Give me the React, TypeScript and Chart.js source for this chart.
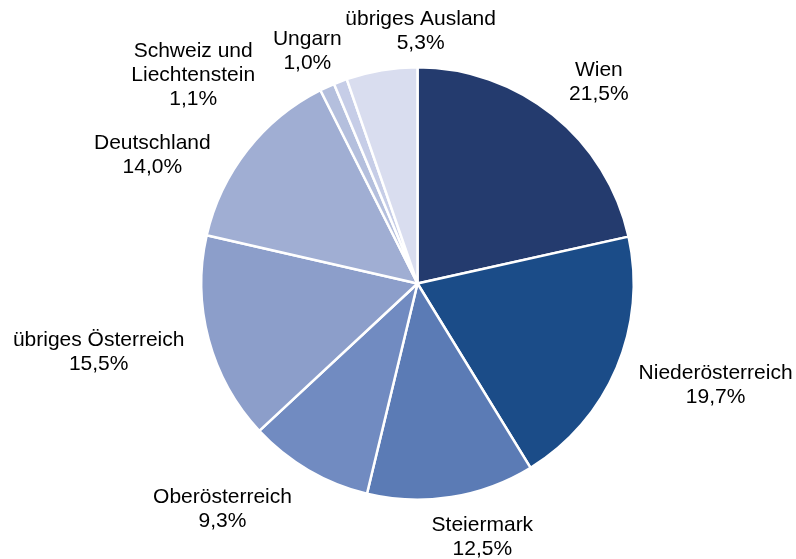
import React, { useEffect, useRef } from "react";
import { Chart, registerables } from "chart.js";

Chart.register(...registerables);

const categories = [
  "Wien",
  "Niederösterreich",
  "Steiermark",
  "Oberösterreich",
  "übriges Österreich",
  "Deutschland",
  "Schweiz und Liechtenstein",
  "Ungarn",
  "übriges Ausland",
];
const shares = [21.5, 19.7, 12.5, 9.3, 15.5, 14.0, 1.1, 1.0, 5.3];
const labelLines = [
  ["Wien"],
  ["Niederösterreich"],
  ["Steiermark"],
  ["Oberösterreich"],
  ["übriges Österreich"],
  ["Deutschland"],
  ["Schweiz und", "Liechtenstein"],
  ["Ungarn"],
  ["übriges Ausland"],
];
const sliceColors = [
  "#243B6E",
  "#1B4C88",
  "#5B7BB5",
  "#718BC1",
  "#8C9ECA",
  "#A0AED3",
  "#B4BFDD",
  "#C6CDE7",
  "#D9DDEF",
];
// label block centre offsets from each slice's outer mid point
const labelOffsets: [number, number][] = [
  [46, -34],
  [99, 16],
  [31, 38],
  [-86, 37],
  [-110, 11],
  [-95, 3],
  [-134, -14],
  [-33, -32],
  [39, -41],
];

const fmt = (v: number) => v.toFixed(1).replace(".", ",") + "%";

const labelPlugin = {
  id: "outerLabels",
  afterDatasetsDraw(chart: any) {
    const ctx = chart.ctx;
    const meta = chart.getDatasetMeta(0);
    const fontSize = 21;
    const lineH = 24;
    const capH = 15;
    ctx.save();
    ctx.font = `${fontSize}px "Liberation Sans", Arial, sans-serif`;
    ctx.fillStyle = "#000000";
    ctx.textAlign = "center";
    ctx.textBaseline = "alphabetic";
    meta.data.forEach((arc: any, i: number) => {
      const p = arc.getProps(["x", "y", "startAngle", "endAngle", "outerRadius"], true);
      const mid = (p.startAngle + p.endAngle) / 2;
      const px = p.x + Math.cos(mid) * p.outerRadius;
      const py = p.y + Math.sin(mid) * p.outerRadius;
      const lines = [...labelLines[i], fmt(shares[i])];
      const h = capH + lineH * (lines.length - 1);
      const cx = px + labelOffsets[i][0];
      const cy = py + labelOffsets[i][1];
      const b1 = cy - h / 2 + capH;
      lines.forEach((t, k) => ctx.fillText(t, cx, b1 + k * lineH));
    });
    ctx.restore();
  },
};

export default function App() {
  const ref = useRef<HTMLCanvasElement | null>(null);
  useEffect(() => {
    if (!ref.current) return;
    const chart = new Chart(ref.current, {
      type: "pie",
      data: {
        labels: categories,
        datasets: [
          {
            data: shares,
            backgroundColor: sliceColors,
            borderColor: "#FFFFFF",
            borderWidth: 2.5,
            hoverOffset: 0,
            offset: 0,
          },
        ],
      },
      options: {
        animation: false,
        responsive: true,
        maintainAspectRatio: false,
        layout: { padding: { left: 200, right: 161, top: 65, bottom: 57 } },
        plugins: {
          legend: { display: false },
          tooltip: { enabled: false },
        },
      },
      plugins: [labelPlugin],
    });
    return () => chart.destroy();
  }, []);
  return (
    <div style={{ position: "absolute", left: 0, top: 0, width: 796, height: 559, background: "#fff" }}>
      <canvas ref={ref} />
    </div>
  );
}
